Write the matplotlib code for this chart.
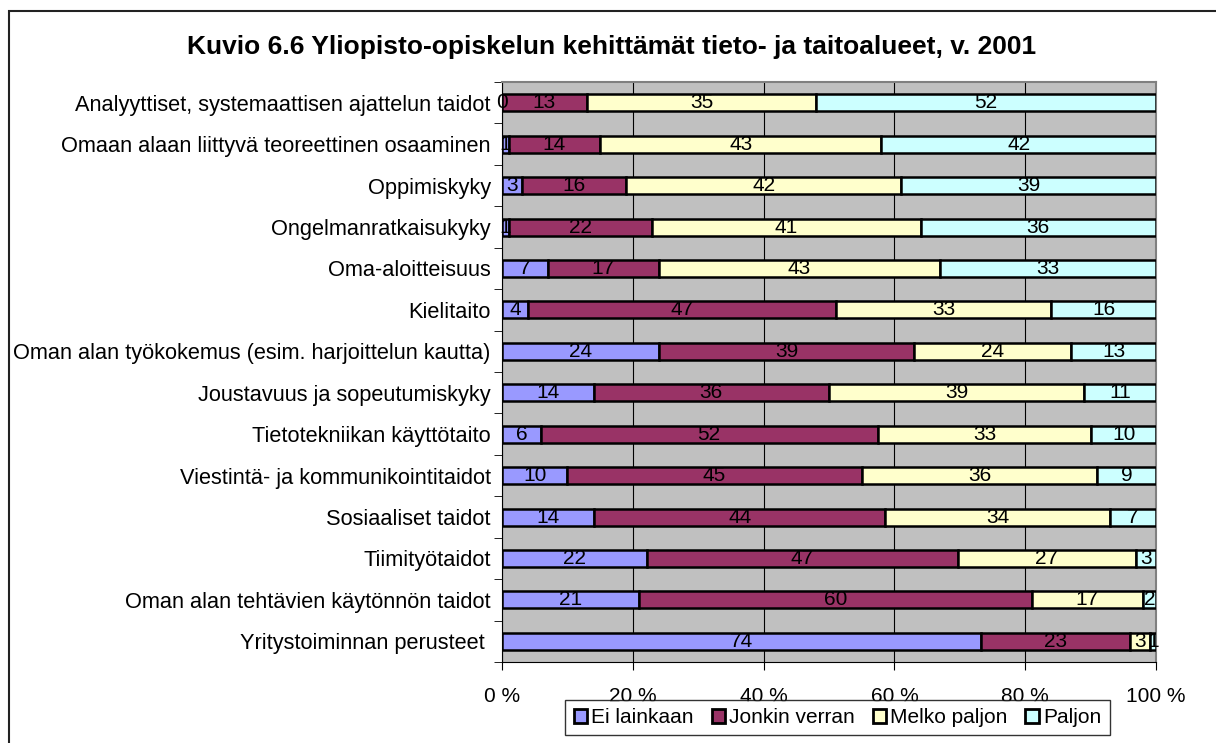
import matplotlib.pyplot as plt
import numpy as np

plt.rcParams['font.family'] = ['Liberation Sans', 'DejaVu Sans']

categories = [
    "Analyyttiset, systemaattisen ajattelun taidot",
    "Omaan alaan liittyvä teoreettinen osaaminen",
    "Oppimiskyky",
    "Ongelmanratkaisukyky",
    "Oma-aloitteisuus",
    "Kielitaito",
    "Oman alan työkokemus (esim. harjoittelun kautta)",
    "Joustavuus ja sopeutumiskyky",
    "Tietotekniikan käyttötaito",
    "Viestintä- ja kommunikointitaidot",
    "Sosiaaliset taidot",
    "Tiimityötaidot",
    "Oman alan tehtävien käytönnön taidot",
    "Yritystoiminnan perusteet ",
]
series_names = ["Ei lainkaan", "Jonkin verran", "Melko paljon", "Paljon"]
ei_lainkaan = [0, 1, 3, 1, 7, 4, 24, 14, 6, 10, 14, 22, 21, 74]
jonkin_verran = [13, 14, 16, 22, 17, 47, 39, 36, 52, 45, 44, 47, 60, 23]
melko_paljon = [35, 43, 42, 41, 43, 33, 24, 39, 33, 36, 34, 27, 17, 3]
paljon = [52, 42, 39, 36, 33, 16, 13, 11, 10, 9, 7, 3, 2, 1]
colors = ["#9999FF", "#993366", "#FFFFCC", "#CCFFFF"]

data = np.array([ei_lainkaan, jonkin_verran, melko_paljon, paljon], dtype=float)
shares = data / data.sum(axis=0) * 100

fig = plt.figure(figsize=(12.16, 7.43), dpi=100)
ax = fig.add_axes([0.4128, 0.1090, 0.5379, 0.7806])
ax.set_facecolor("#C0C0C0")

y = np.arange(len(categories))
left = np.zeros(len(categories))
for i in range(4):
    ax.barh(y, shares[i], left=left, height=0.41, color=colors[i],
            edgecolor="black", linewidth=1.8, label=series_names[i], zorder=3)
    for j in range(len(categories)):
        ax.text(left[j] + shares[i][j] / 2, y[j], str(int(data[i][j])),
                ha="center", va="center", fontsize=15, zorder=4)
    left += shares[i]

ax.set_xlim(0, 100)
ax.set_ylim(len(categories) - 0.5, -0.5)
ax.set_xticks([0, 20, 40, 60, 80, 100])
ax.set_xticklabels(["0 %", "20 %", "40 %", "60 %", "80 %", "100 %"], fontsize=15)
ax.set_yticks(y)
ax.set_yticklabels(categories, fontsize=15.7)
ax.tick_params(axis="y", length=0, pad=8)
ax.tick_params(axis="x", length=6, pad=12, direction="out")
ax.set_yticks(np.arange(len(categories) + 1) - 0.5, minor=True)
ax.tick_params(axis="y", which="minor", length=6, direction="out")
ax.grid(axis="x", color="black", linewidth=0.8, zorder=1)
ax.set_axisbelow(True)
for s in ["top", "right"]:
    ax.spines[s].set_color("#808080")
    ax.spines[s].set_linewidth(1.5)

fig.text(0.503, 0.937,
         "Kuvio 6.6 Yliopisto-opiskelun kehittämät tieto- ja taitoalueet, v. 2001",
         fontsize=19, fontweight="bold", ha="center", va="center")

leg = ax.legend(loc="center", bbox_to_anchor=(0.513, -0.0957), ncol=4,
                frameon=True, fancybox=False, edgecolor="black", fontsize=15,
                handlelength=0.65, handleheight=0.65, handletextpad=0.2,
                columnspacing=0.85, borderpad=0.4, borderaxespad=0)
leg.get_frame().set_linewidth(1.0)
for h in leg.legend_handles:
    h.set_linewidth(2)

border = plt.Rectangle((9 / 1216, -0.1), 1.2, 1.1 - 11 / 743,
                       transform=fig.transFigure, fill=False,
                       edgecolor="#222222", linewidth=1.5)
fig.patches.append(border)

fig.savefig("out.png", dpi=100)
